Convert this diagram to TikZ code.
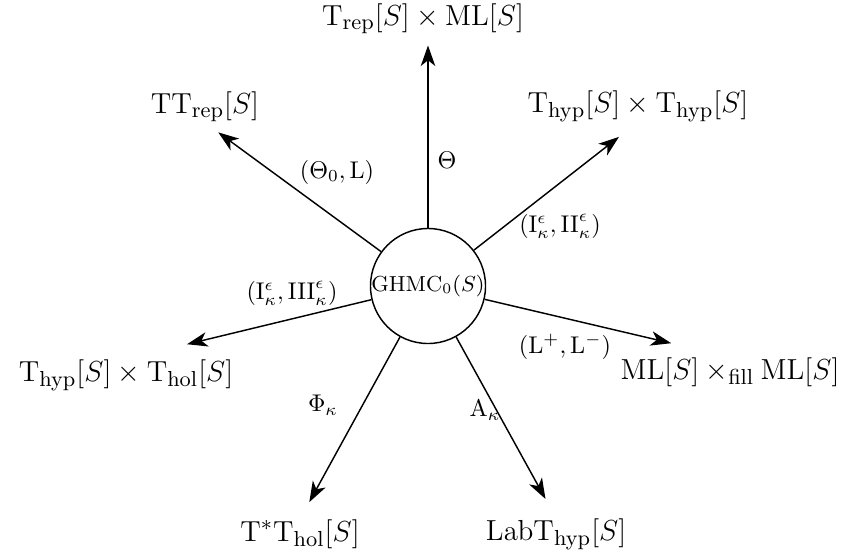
\documentclass[tikz,border=0pt]{standalone}
\usetikzlibrary{arrows.meta}
\begin{document}
\begin{tikzpicture}[x=0.414pt,y=-0.414pt,
  tgt/.style={inner sep=0pt, font=\fontsize{12.8}{15}\selectfont},
  elab/.style={inner sep=0pt, font=\normalsize},
  arr/.style={line width=0.6pt, -{Stealth[length=8.5pt,width=6pt,inset=2.4pt]}}]
\useasboundingbox (0,0) rectangle (849,554);
\node[draw, circle, line width=0.6pt, minimum size=47.2pt, inner sep=0pt, font=\small] (c) at (428,286) {$\mathrm{GHMC}_0(S)$};
% targets
\node[tgt] (top) at (423,19) {$\mathrm{T}_{\mathrm{rep}}[S]\times\mathrm{ML}[S]$};
\node[tgt] (tt) at (205,107) {$\mathrm{TT}_{\mathrm{rep}}[S]$};
\node[tgt] (hh) at (638,106) {$\mathrm{T}_{\mathrm{hyp}}[S]\times\mathrm{T}_{\mathrm{hyp}}[S]$};
\node[tgt] (hl) at (126,375) {$\mathrm{T}_{\mathrm{hyp}}[S]\times\mathrm{T}_{\mathrm{hol}}[S]$};
\node[tgt] (ml) at (730,372) {$\mathrm{ML}[S]\times_{\mathrm{fill}}\mathrm{ML}[S]$};
\node[tgt] (ts) at (300,534) {$\mathrm{T}^*\mathrm{T}_{\mathrm{hol}}[S]$};
\node[tgt] (lb) at (556,534) {$\mathrm{LabT}_{\mathrm{hyp}}[S]$};
% arrows
\draw[arr, shorten >=4.5pt] (c) -- (c |- top.south);
\draw[arr, shorten >=6.8pt] (c) -- (tt.south);
\draw[arr, shorten >=10pt] (c) -- (hh.south);
\draw[arr, shorten >=26pt] (c) -- (hl.north);
\draw[arr, shorten >=25pt] (c) -- (ml.north);
\draw[arr, shorten >=8pt] (c) -- (ts.north);
\draw[arr, shorten >=9pt] (c) -- (lb.north);
% edge labels
\node[elab] (l1) at (447,160) {$\Theta$};
\node[elab] (l2) at (337,172) {$(\Theta_0,\mathrm{L})$};
\node[elab] (l3) at (560,226) {$(\mathrm{I}^\epsilon_\kappa,\mathrm{II}^\epsilon_\kappa)$};
\node[elab] (l4) at (292,293) {$(\mathrm{I}^\epsilon_\kappa,\mathrm{III}^\epsilon_\kappa)$};
\node[elab] (l5) at (565,347) {$(\mathrm{L}^+,\mathrm{L}^-)$};
\node[elab] (l6) at (323,405) {$\Phi_\kappa$};
\node[elab] (l7) at (485,410) {$\mathrm{A}_\kappa$};
\end{tikzpicture}
\end{document}
